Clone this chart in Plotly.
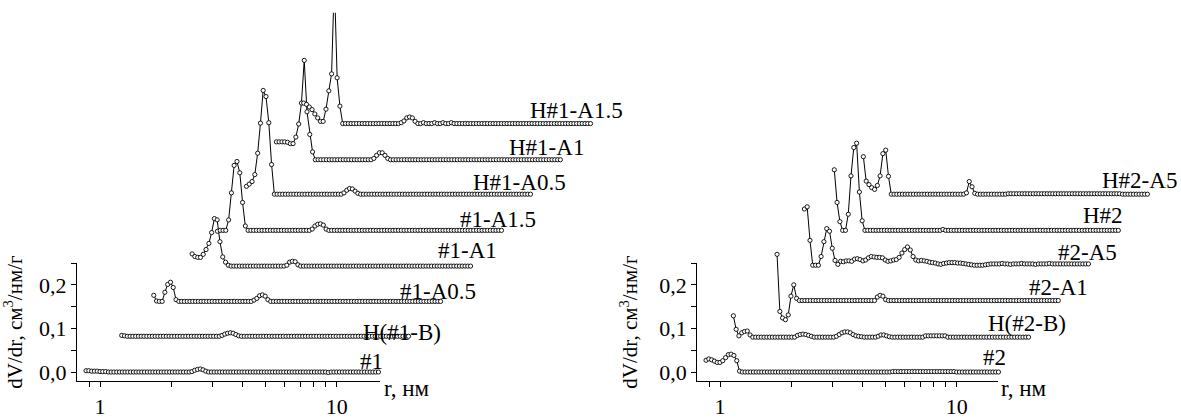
import numpy as np
import plotly.graph_objects as go

# pore radius grid, nm (common to all curves; each curve uses the tail of it)
R_NM = [0.850, 0.873, 0.897, 0.922, 0.947, 0.973, 1.000, 1.027, 1.056, 1.085,
        1.114, 1.145, 1.177, 1.209, 1.242, 1.276, 1.311, 1.347, 1.384, 1.422,
        1.461, 1.501, 1.542, 1.585, 1.628, 1.673, 1.719, 1.766, 1.815, 1.865,
        1.916, 1.969, 2.023, 2.078, 2.135, 2.194, 2.254, 2.316, 2.380, 2.445,
        2.512, 2.581, 2.652, 2.725, 2.799, 2.876, 2.955, 3.036, 3.120, 3.205,
        3.293, 3.384, 3.477, 3.572, 3.670, 3.771, 3.875, 3.981, 4.090, 4.203,
        4.318, 4.437, 4.559, 4.684, 4.812, 4.944, 5.080, 5.220, 5.363, 5.510,
        5.662, 5.817, 5.977, 6.141, 6.310, 6.483, 6.661, 6.844, 7.032, 7.225,
        7.423, 7.627, 7.836, 8.052, 8.273, 8.500, 8.733, 8.973, 9.219, 9.472,
        9.733, 10.00, 10.27, 10.56, 10.85, 11.14, 11.45, 11.77, 12.09, 12.42,
        12.76, 13.11, 13.47, 13.84, 14.22, 14.61, 15.01]

# dV/dr values in units of 0.001 cm3/nm/g
DV_1 = [3, 3, 2, 2, 2, 1, 1, 1, 0, 0,
        0, 0, 0, 0, 0, 0, 0, 0, 0, 0,
        0, 0, 0, 0, 0, 0, 0, 0, 0, 0,
        0, 0, 0, 0, 0, 0, 0, 0, 1, 4,
        6, 7, 5, 2, 0, 0, 0, 0, 0, 0,
        0, 0, 0, 0, 0, 0, 0, 0, 0, 0,
        0, 0, 0, 0, 0, 0, 0, 0, 0, 0,
        0, 0, 0, 0, 0, 0, 0, 0, 0, 0,
        0, 0, 0, 0, 0, 0, 0, -1, 0, 0,
        0, 0, 0, 0, 0, 0, 0, 0, 0, 0,
        0, 0, 0, 0, 0, 0]
DV_H1B = [2, 1, 0, 0, 0, 0, 0, 0, 0, 0,
          0, 0, 0, 0, 0, 0, 0, 0, 0, 0,
          0, 0, 0, 0, 0, 0, 0, 0, 0, 0,
          0, 0, 0, 0, 0, 0, 2, 5, 7, 8,
          7, 4, 1, 0, 0, 0, 0, 0, 0, 0,
          0, 0, 0, 0, 0, 0, 0, 0, 0, 0,
          0, 0, 0, 0, 0, 0, 0, 0, 0, 0,
          0, 0, 0, 0, 0, 0, 0, 0, 0, 0,
          0, 0, 0, 0, 0, 0, 0, 0, 0, 0,
          0, 0, 0, 0, 0, 0, 0, 0, 0, 0,
          0, 0, 0, 0]
DV_1A05 = [14, 1, 0, 0, 21, 39, 44, 32, 4, 0,
           0, 0, 0, 0, 0, 0, 0, 0, 0, 0,
           0, 0, 0, 0, 0, 0, 0, 0, 0, 0,
           0, 0, 0, 0, 0, 0, 3, 7, 13, 15,
           12, 4, 0, 0, 0, 0, 0, 0, 0, 0,
           0, 0, 0, 0, 0, 0, 0, 0, 0, 0,
           0, 0, 0, 0, 0, 0, 0, 0, 0, 0,
           0, 0, 0, 0, 0, 0, 0, 0, 0, 0,
           0, 0, 0, 0, 0, 0, 0, 0, 0, 0,
           0, 0, 0, 0, 0, 0, 0, 0, 0, 0,
           0, 0, 0, 0]
DV_1A1 = [28, 22, 20, 20, 27, 38, 52, 77, 109, 106,
          56, 21, 9, 2, 0, 0, 0, 0, 0, 0,
          0, 0, 0, 0, 0, 0, 0, 0, 0, 0,
          0, 0, 0, 0, 2, 9, 11, 10, 3, 0,
          0, 0, 0, 0, 0, 0, 0, 0, 0, 0,
          0, 0, 0, 0, 0, 0, 0, 0, 0, 0,
          0, 0, 0, 0, 0, 0, 0, 0, 0, 0,
          0, 0, 0, 0, 0, 0, 0, 0, 0, 0,
          0, 0, 0, 0, 0, 0, 0, 0, 0, 0,
          0, 0, 0, 0, 0, 0, 0, 0, 0, 0,
          0]
DV_1A15 = [-2, 0, 0, 0, 24, 86, 149, 158, 132, 64,
           10, 0, 0, 0, 0, 0, 0, 0, 0, 0,
           0, 0, 0, 0, 0, 0, 0, 0, 0, 0,
           0, 0, 0, 0, 3, 10, 14, 15, 12, 3,
           0, 0, 0, 0, 0, 0, 0, 0, 0, 0,
           0, 0, 0, 0, 0, 0, 0, 0, 0, 0,
           0, 0, 0, 0, 0, 0, 0, 0, 0, 0,
           0, 0, 0, 0, 0, 0, 0, 0, 0, 0,
           0, 0, 0, 0, 0, 0, 0, 0, 0, 0,
           0, 0, 0, 0, 0, 0, 0, 0, 0, 0,
           0, 0, 0]
DV_H1A05 = [18, 23, 29, 45, 94, 163, 238, 224, 164, 68,
            0, 0, 0, 0, 0, 0, 0, 0, 0, 0,
            0, 0, 0, 0, 0, 0, 0, 0, 0, 0,
            0, 0, 0, 0, 0, 3, 9, 13, 12, 7,
            2, 0, 0, 0, 0, 0, 0, 0, 0, 0,
            0, 0, 0, 0, 0, 0, 0, 0, 0, 0,
            0, 0, 0, 0, 0, 0, 0, 0, 0, 0,
            0, 0, 0, 0, 0, 0, 0, 0, 0, 0,
            0, 0, 0, 0, 0, 0, 0, 0, 0, 0,
            0, 0, 0, 0, 0, 0, 0, 0, 0, 0,
            0, 0, 0]
DV_H1A1 = [41, 41, 41, 41, 40, 37, 37, 52, 82, 130,
           228, 110, 58, 18, 0, 0, 0, 0, 0, 0,
           0, 0, 0, 0, 0, 0, 0, 0, 0, 0,
           0, 0, 0, 0, 0, 3, 10, 16, 16, 10,
           3, 0, 0, 0, 0, 0, 0, 0, 0, 0,
           0, 0, 0, 0, 0, 0, 0, 0, 0, 0,
           0, 0, 0, 0, 0, 0, 0, 0, 0, 0,
           0, 0, 0, 0, 0, 0, 0, 0, 0, 0,
           0, 0, 0, 0, 0, 0, 0, 0, 0, 0,
           0, 0, 0, 0, 0, 0, 0, 0, 0, 0,
           0, 0, 0]
DV_H1A15 = [47, 44, 38, 32, 22, 13, 5, 5, 33, 75,
            114, 330, 105, 40, 0, 0, 0, 0, 0, 0,
            0, 0, 0, 0, 0, 0, 0, 0, 0, 0,
            0, 0, 0, 0, 0, 2, 6, 13, 15, 13,
            5, 0, 0, 2, 0, 0, 0, 2, 0, 0,
            2, 0, 0, 2, 0, 0, 0, 0, 0, 0,
            0, 0, 0, 0, 0, 0, 0, 0, 0, 0,
            0, 0, 0, 0, 0, 0, 0, 0, 0, 0,
            0, 0, 0, 0, 0, 0, 0, 0, 0, 0,
            0, 0, 0, 0, 0, 0, 0, 0, 0, 0,
            0, 0, 0, 0]

DV_2 = [27, 30, 28, 25, 22, 22, 26, 33, 40, 41,
        38, 26, 2, 0, 0, 0, 0, 0, 0, 0,
        0, 0, 0, 0, 0, 0, 0, 0, 0, 0,
        0, 0, 0, 0, 0, 0, 0, 0, 0, 0,
        0, 0, 0, 0, 0, 0, 0, 0, 0, 0,
        0, 0, 0, 0, 0, 0, 0, 0, 0, 0,
        0, 0, 0, 0, 0, 0, 0, 1, 1, 1,
        1, 1, 1, 1, 1, 1, 1, 1, 1, 1,
        1, 1, 1, 1, 1, 1, 1, 1, 1, 1,
        0, 0, 0, 0, 0, 0, 0, 0, 0, 0,
        0, 0, 0, 0, 0, 0]
DV_H2B = [49, 18, 3, 10, 13, 14, 5, 0, 0, 0,
          0, 0, 0, 0, 0, 0, 0, 0, 0, 0,
          0, 0, 0, 4, 6, 7, 6, 4, 2, 0,
          0, 0, 0, 0, 0, 0, 0, 2, 6, 10,
          12, 12, 10, 6, 3, 2, 1, 0, 0, 0,
          0, 0, 2, 5, 5, 3, 1, 0, 0, 0,
          0, 0, 0, 0, 0, 0, 0, 0, 0, 3,
          3, 3, 3, 3, 3, 3, 3, 0, 0, 0,
          0, 0, 0, 0, 0, 0, 0, 0, 0, 0,
          0, 0, 0, 0, 0, 0, 0, 0, 0, 0,
          0, 0, 0, 0, 0, 0, 0]
DV_2A1 = [106, -25, -40, -44, -33, 10, 36, 5, 0, 0,
          0, 0, 0, 0, 0, 0, 0, 0, 0, 0,
          0, 0, 0, 0, 0, 0, 0, 0, 0, 0,
          0, 0, 0, 0, 0, 0, 8, 12, 10, 2,
          0, 0, 0, 0, 0, 0, 0, 0, 0, 0,
          0, 0, 0, 0, 0, 0, 0, 0, 0, 0,
          0, 0, 0, 0, 0, 0, 0, 0, 0, 0,
          0, 0, 0, 0, 0, 0, 0, 0, 0, 0,
          0, 0, 0, 0, 0, 0, 0, 0, 0, 0,
          0, 0, 0, 0, 0, 0, 0, 0, 0, 0,
          0, 0]
DV_2A5 = [129, 134, 57, 0, 0, 0, 20, 54, 84, 78,
          39, 11, 2, 9, 8, 10, 10, 9, 14, 15,
          13, 10, 12, 17, 20, 19, 18, 18, 17, 12,
          9, 10, 12, 13, 18, 28, 36, 42, 35, 20,
          12, 10, 11, 10, 9, 7, 6, 5, 3, 2,
          4, 5, 6, 6, 6, 5, 5, 4, 3, 2,
          1, 0, 0, 0, 0, 1, 2, 3, 3, 3,
          3, 4, 3, 3, 2, 3, 3, 3, 4, 3,
          3, 3, 3, 2, 3, 3, 3, 3, 4, 3,
          3, 3, 3, 3, 3, 3, 3, 3, 3, 3,
          3, 3, 3]
DV_H2 = [139, 64, 20, 0, 0, 37, 125, 190, 200, 88,
         22, 0, 0, 0, 0, 0, 0, 0, 0, 0,
         0, 0, 0, 0, 0, 0, 0, 0, 0, 0,
         0, 0, 0, 0, 0, 0, 0, 0, 0, 2,
         0, 0, 0, 0, 0, 0, 0, 0, 0, 0,
         0, 0, 0, 0, 0, 0, 0, 0, 0, 0,
         0, 0, 0, 0, 0, 0, 0, 0, 0, 0,
         0, 0, 0, 0, 0, 0, 0, 0, 0, 0,
         0, 0, 0, 0, 0, 0, 0, 0, 0, 0,
         0, 0, 0, 0, 0, 0, 0, 0, 0, 0,
         0, 0, 0]
DV_H2A5 = [86, 30, 22, 15, 11, 20, 42, 93, 101, 41,
           0, 0, 0, 0, 0, 0, 0, 0, 0, 0,
           0, 0, 0, 0, 0, 0, 0, 0, 0, 0,
           0, 0, 0, 0, 0, 0, 0, 3, 29, 17,
           2, 0, 0, 0, 0, 0, 0, 0, 0, 0,
           0, 0, 1, 1, 1, 1, 1, 1, 1, 1,
           1, 1, 1, 1, 1, 1, 1, 1, 1, 1,
           1, 1, 1, 1, 1, 1, 1, 1, 1, 1,
           1, 1, 1, 1, 1, 1, 1, 1, 1, 1,
           1, 1, 1, 0, 0, 0, 0, 0, 0, 0,
           0, 0, 0]

LEFT_NAMES = ["#1", "H(#1-B)", "#1-A0.5", "#1-A1", "#1-A1.5", "H#1-A0.5", "H#1-A1", "H#1-A1.5"]
LEFT_DATA = [DV_1, DV_H1B, DV_1A05, DV_1A1, DV_1A15, DV_H1A05, DV_H1A1, DV_H1A15]
LEFT_XSHIFT = [1.0, 1.34, 1.83, 2.45, 3.31, 4.39, 5.87, 7.87]
LEFT_YSHIFT = [0.0, 0.082, 0.162, 0.243, 0.325, 0.408, 0.487, 0.570]
LEFT_LABEL_R = [14.06, 18.9, 26.8, 35.7, 48.2, 59.3, 77.3, 102.6]
LEFT_LABEL_V = [0.0245, 0.091, 0.184, 0.278, 0.350, 0.434, 0.515, 0.601]

RIGHT_NAMES = ["#2", "H(#2-B)", "#2-A1", "#2-A5", "H#2", "H#2-A5"]
RIGHT_DATA = [DV_2, DV_H2B, DV_2A1, DV_2A5, DV_H2, DV_H2A5]
RIGHT_XSHIFT = [1.0, 1.34, 1.79, 2.40, 3.21, 4.26]
RIGHT_YSHIFT = [0.0, 0.080, 0.164, 0.245, 0.325, 0.408]
RIGHT_LABEL_R = [14.5, 19.8, 27.0, 35.7, 41.3, 59.4]
RIGHT_LABEL_V = [0.0324, 0.1113, 0.1937, 0.2744, 0.3595, 0.440]

# tick positions (labels only on major ones)
Y_TICKS = [0.0, 0.05, 0.1, 0.15, 0.2, 0.25]
Y_TICKTEXT = ["0,0", "", "0,1", "", "0,2", ""]
X_TICKS = [0.9, 1, 2, 3, 4, 5, 6, 7, 8, 9, 10]
X_TICKTEXT = ["", "1", "", "", "", "", "", "", "", "", "10"]

W, H = 1181, 419
SERIF = "Liberation Serif"

fig = go.Figure()

def add_panel(names, data, xs, ys, xa, ya):
    for name, dv, fx, oy in zip(names, data, xs, ys):
        r = [R_NM[len(R_NM) - len(dv) + i] * fx for i in range(len(dv))]
        v = [d * 1e-3 + oy for d in dv]
        fig.add_trace(go.Scatter(
            x=r, y=v, mode="lines+markers", name=name,
            xaxis=xa, yaxis=ya, showlegend=False,
            line=dict(color="black", width=1),
            marker=dict(symbol="circle", size=4.2, color="white",
                        line=dict(color="black", width=0.9)),
        ))

add_panel(LEFT_NAMES, LEFT_DATA, LEFT_XSHIFT, LEFT_YSHIFT, "x3", "y3")
add_panel(RIGHT_NAMES, RIGHT_DATA, RIGHT_XSHIFT, RIGHT_YSHIFT, "x4", "y4")

# placeholders so the visible axis frames are drawn
fig.add_trace(go.Scatter(x=[1], y=[-1], xaxis="x", yaxis="y", mode="markers", showlegend=False))
fig.add_trace(go.Scatter(x=[1], y=[-1], xaxis="x2", yaxis="y2", mode="markers", showlegend=False))

# geometry (pixels)
px_decade = 236.7
px_per_unit = 443.3
y_bottom_px = 387.7
y_axis_top_px = 267.3
y_plot_top_px = 13
v_min = -0.0211

left_axis_l, left_one, left_axis_r, left_data_r = 77, 100, 380, 640
right_axis_l, right_one, right_axis_r, right_data_r = 697.3, 720, 997.5, 1181

def xr(a, one, b):
    return [(a - one) / px_decade, (b - one) / px_decade]

ydom_vis = [(H - y_bottom_px) / H, (H - y_axis_top_px) / H]
ydom_dat = [(H - y_bottom_px) / H, (H - y_plot_top_px) / H]
yr_vis = [v_min, v_min + (y_bottom_px - y_axis_top_px) / px_per_unit]
yr_dat = [v_min, v_min + (y_bottom_px - y_plot_top_px) / px_per_unit]

def vis_x(dom, rng, anchor):
    return dict(domain=dom, range=rng, type="log", anchor=anchor,
                showline=True, linecolor="black", linewidth=1.2,
                ticks="outside", ticklen=5, tickwidth=1.1, tickcolor="black",
                tickvals=X_TICKS, ticktext=X_TICKTEXT,
                showgrid=False, zeroline=False,
                tickfont=dict(family=SERIF, size=22, color="black"))

def vis_y(dom, rng, anchor):
    return dict(domain=dom, range=rng, anchor=anchor,
                showline=True, linecolor="black", linewidth=1.2,
                ticks="outside", ticklen=5, tickwidth=1.1, tickcolor="black",
                tickvals=Y_TICKS, ticktext=Y_TICKTEXT,
                showgrid=False, zeroline=False,
                tickfont=dict(family=SERIF, size=22, color="black"),
                title=dict(text="dV/dr, см<sup>3</sup>/нм/г",
                           font=dict(family=SERIF, size=21, color="black")))

def hid(dom, rng, anchor, log=False):
    d = dict(domain=dom, range=rng, anchor=anchor, visible=False)
    if log:
        d["type"] = "log"
    return d

fig.update_layout(
    width=W, height=H,
    margin=dict(l=0, r=0, t=0, b=0),
    paper_bgcolor="white", plot_bgcolor="rgba(0,0,0,0)",
    xaxis=vis_x([left_axis_l / W, left_axis_r / W], xr(left_axis_l, left_one, left_axis_r), "y"),
    yaxis=vis_y(ydom_vis, yr_vis, "x"),
    xaxis2=vis_x([right_axis_l / W, right_axis_r / W], xr(right_axis_l, right_one, right_axis_r), "y2"),
    yaxis2=vis_y(ydom_vis, yr_vis, "x2"),
    xaxis3=hid([left_axis_l / W, left_data_r / W], xr(left_axis_l, left_one, left_data_r), "y3", log=True),
    yaxis3=hid(ydom_dat, yr_dat, "x3"),
    xaxis4=hid([right_axis_l / W, 1.0], xr(right_axis_l, right_one, right_data_r), "y4", log=True),
    yaxis4=hid(ydom_dat, yr_dat, "x4"),
)

for names, rs, vs, xref, yref in ((LEFT_NAMES, LEFT_LABEL_R, LEFT_LABEL_V, "x3", "y3"),
                                  (RIGHT_NAMES, RIGHT_LABEL_R, RIGHT_LABEL_V, "x4", "y4")):
    for name, r, v in zip(names, rs, vs):
        fig.add_annotation(x=float(np.log10(r)), y=v, xref=xref, yref=yref, text=name,
                           showarrow=False,
                           font=dict(family=SERIF, size=23, color="black"))

for xpix in (381.7, 999.3):
    fig.add_annotation(x=xpix / W, y=(H - 410) / H, xref="paper", yref="paper",
                       text="r, нм", showarrow=False, xanchor="left",
                       font=dict(family=SERIF, size=23, color="black"))

fig.write_html("out.html")
